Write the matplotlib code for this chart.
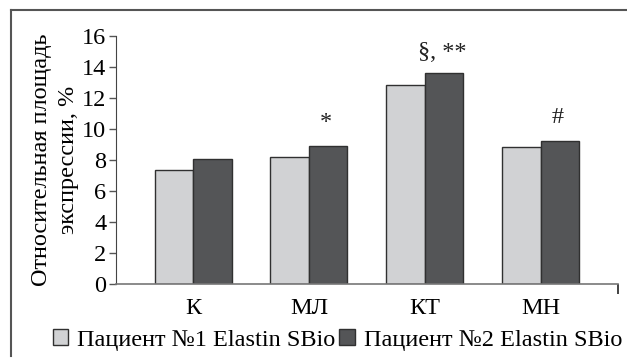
import matplotlib.pyplot as plt
import numpy as np
from matplotlib.lines import Line2D

# данные
categories = ["К", "МЛ", "КТ", "МН"]
patient1 = [7.35, 8.2, 12.85, 8.85]
patient2 = [8.05, 8.9, 13.6, 9.25]
marks = ["", "*", "§, **", "#"]
labels = ["Пациент №1 Elastin SBio", "Пациент №2 Elastin SBio"]
yticks = [0, 2, 4, 6, 8, 10, 12, 14, 16]

plt.rcParams['font.family'] = ['Liberation Serif', 'DejaVu Serif']
fs = 17.5
plt.rcParams['font.size'] = fs

fig = plt.figure(figsize=(6.27, 3.58), dpi=100)
ax = fig.add_axes([0.185, 0.207, 0.8006, 0.6927])

x = np.arange(len(categories))
w = 0.332
light = '#d1d2d4'
dark = '#545557'
edge = '#303030'
b1 = ax.bar(x - w/2, patient1, w, color=light, edgecolor=edge, linewidth=1.0, label=labels[0])
b2 = ax.bar(x + w/2, patient2, w, color=dark, edgecolor=edge, linewidth=1.0, label=labels[1])

# значимость над столбцами
offs = [0, 1.15, 0.95, 1.1]
for xi, v, m, o in zip(x, patient2, marks, offs):
    if m:
        ax.text(xi + w/2 - 0.02, v + o, m, ha='center', va='baseline', fontsize=fs, color='#222222')

ax.set_xlim(-0.664, 3.664)
ax.set_ylim(0, 16)
ax.set_yticks(yticks)
ax.set_xticks(x)
ax.set_xticklabels(categories)
ax.set_xticks([3.664], minor=True)
ax.tick_params(axis='x', which='major', length=0, pad=10)
ax.tick_params(axis='x', which='minor', length=7, width=1.2, direction='out', color='#222222')
ax.tick_params(axis='y', length=5, width=1.0, pad=2, direction='out', color='#555555')
for s in ['top', 'right']:
    ax.spines[s].set_visible(False)
ax.spines['left'].set_color('#444444')
ax.spines['bottom'].set_color('#777777')
ax.spines['bottom'].set_linewidth(1.2)

ax.set_ylabel("Относительная площадь\nэкспрессии, %", fontsize=fs, linespacing=1.4, labelpad=2)

fig.legend(handles=[b1, b2], labels=labels, loc='center left', bbox_to_anchor=(53/627, 1 - 340/358),
           ncol=2, frameon=False, handlelength=0.62, handleheight=0.62, handletextpad=0.37,
           columnspacing=0.17, borderpad=0, borderaxespad=0, fontsize=fs)

# рамка
fig.add_artist(Line2D([11/627, 1], [1 - 10/358, 1 - 10/358], transform=fig.transFigure, color='#555555', lw=1.5))
fig.add_artist(Line2D([11/627, 11/627], [1 - 10/358, 0.005], transform=fig.transFigure, color='#555555', lw=1.5))

fig.savefig('out.png', dpi=100)
